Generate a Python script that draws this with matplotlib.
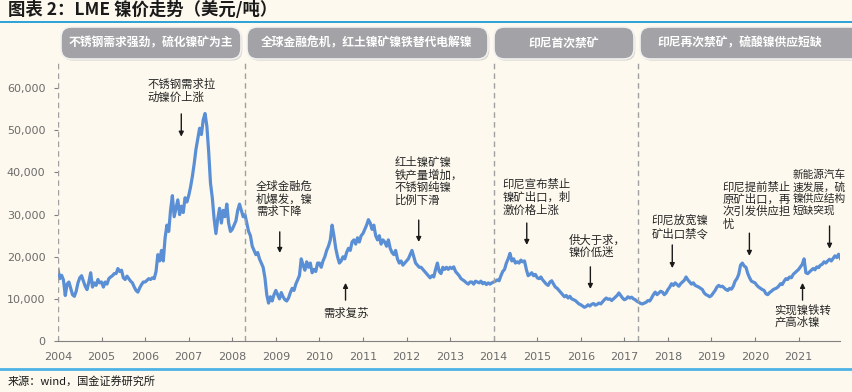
import numpy as np
import matplotlib.pyplot as plt
from matplotlib.patches import FancyBboxPatch
from matplotlib.lines import Line2D
from matplotlib.ticker import FuncFormatter

plt.rcParams['font.family'] = ['Noto Sans CJK SC', 'DejaVu Sans']

# LME nickel price, USD/t, thousands, 24 readings per year (half-monthly)
p2004 = [17.0, 14.8, 15.6, 14.5, 10.8, 13.5, 14.0, 12.5, 11.0, 10.6, 11.8, 13.8,
         15.0, 15.5, 14.2, 13.0, 12.2, 14.0, 16.2, 12.8, 13.8, 13.2, 14.6, 13.8]
p2005 = [14.0, 12.8, 14.0, 13.5, 14.8, 15.2, 15.5, 16.0, 16.0, 17.2, 16.5, 16.8,
         15.0, 14.6, 15.4, 14.8, 14.2, 13.8, 12.8, 12.0, 11.6, 12.6, 13.4, 14.0]
p2006 = [14.0, 14.4, 14.8, 14.6, 15.0, 14.8, 16.5, 20.5, 19.0, 21.5, 19.0, 24.5,
         27.5, 26.0, 31.0, 34.5, 29.5, 31.5, 33.5, 30.0, 32.0, 30.5, 34.0, 33.0]
p2007 = [34.5, 36.5, 39.0, 42.0, 45.5, 48.0, 50.5, 49.0, 52.5, 54.0, 51.0, 45.0,
         37.5, 34.0, 29.0, 25.5, 29.0, 31.5, 28.0, 31.0, 29.5, 32.5, 28.0, 26.0]
p2008 = [26.5, 27.5, 28.5, 31.0, 32.5, 31.0, 29.5, 30.0, 28.0, 26.0, 25.0, 22.5,
         21.5, 20.5, 21.0, 19.5, 18.5, 17.5, 15.0, 11.0, 9.0, 10.5, 9.5, 11.0]
p2009 = [12.0, 11.0, 10.0, 11.5, 10.5, 9.8, 9.5, 10.2, 11.5, 12.5, 12.0, 13.5,
         14.5, 15.5, 19.5, 18.0, 16.8, 18.8, 17.5, 18.5, 16.2, 17.0, 16.5, 18.5]
p2010 = [18.5, 17.5, 19.0, 20.0, 21.5, 22.5, 24.0, 27.5, 25.0, 22.0, 20.0, 18.5,
         19.0, 20.0, 19.5, 21.0, 22.0, 21.5, 23.5, 24.0, 23.0, 24.5, 23.5, 25.0]
p2011 = [25.5, 26.5, 27.5, 28.8, 28.0, 26.5, 27.5, 25.0, 24.0, 25.0, 23.0, 24.0,
         23.5, 22.5, 24.0, 22.0, 21.0, 20.5, 21.5, 19.5, 18.5, 19.0, 18.0, 18.5]
p2012 = [19.0, 19.5, 20.5, 21.5, 20.0, 18.5, 18.0, 17.5, 17.5, 17.0, 16.5, 16.0,
         15.5, 15.0, 15.5, 15.2, 17.0, 18.5, 16.5, 16.0, 17.5, 17.0, 17.5, 17.0]
p2013 = [17.5, 17.2, 17.6, 16.5, 16.0, 15.5, 14.8, 14.5, 14.2, 13.8, 13.5, 14.0,
         14.0, 13.5, 14.2, 14.0, 13.8, 14.2, 13.6, 13.9, 13.4, 13.8, 13.5, 13.8]
p2014 = [14.0, 14.2, 14.5, 14.3, 15.5, 16.5, 17.0, 18.5, 19.5, 20.8, 19.0, 19.5,
         18.5, 18.8, 18.5, 19.2, 18.8, 19.0, 17.0, 15.5, 15.8, 16.2, 15.5, 15.8]
p2015 = [15.0, 14.8, 15.2, 14.5, 14.0, 13.5, 13.2, 14.0, 14.3, 13.5, 12.8, 12.5,
         12.0, 11.5, 11.0, 10.5, 10.8, 10.2, 10.6, 10.0, 9.8, 9.6, 9.2, 8.8]
p2016 = [8.6, 8.3, 8.0, 8.2, 8.6, 8.3, 8.7, 8.9, 8.5, 8.7, 9.0, 8.8,
         9.3, 9.8, 10.2, 9.9, 10.0, 9.6, 10.0, 10.4, 10.8, 11.4, 10.8, 10.2]
p2017 = [9.8, 10.0, 10.5, 10.2, 10.4, 10.0, 9.8, 9.4, 9.2, 8.9, 8.8, 9.0,
         9.2, 9.6, 9.5, 10.2, 11.0, 11.6, 11.0, 11.4, 11.8, 11.6, 11.0, 11.4]
p2018 = [12.2, 12.8, 13.6, 13.2, 13.8, 13.4, 13.0, 13.6, 14.0, 14.4, 15.2, 14.5,
         14.0, 13.5, 13.8, 13.2, 13.0, 12.8, 12.5, 12.2, 11.4, 11.0, 10.8, 10.5]
p2019 = [10.8, 11.4, 12.0, 12.8, 13.2, 12.9, 13.0, 12.6, 12.2, 12.0, 12.5, 12.3,
         13.0, 14.2, 14.8, 15.8, 18.0, 18.5, 17.8, 17.5, 16.0, 15.0, 14.2, 14.0]
p2020 = [13.8, 13.2, 12.8, 12.5, 12.2, 12.0, 11.2, 11.0, 11.5, 11.8, 12.2, 12.4,
         12.6, 13.0, 13.6, 13.4, 14.2, 14.8, 14.6, 15.2, 15.0, 15.8, 16.2, 16.6]
p2021 = [17.0, 17.6, 18.2, 19.5, 16.2, 16.0, 16.4, 16.8, 17.2, 16.9, 17.6, 17.4,
         18.0, 18.2, 18.8, 18.5, 19.0, 19.4, 19.0, 19.6, 20.2, 19.8, 20.6, 19.6]

yearly = [p2004, p2005, p2006, p2007, p2008, p2009, p2010, p2011, p2012,
          p2013, p2014, p2015, p2016, p2017, p2018, p2019, p2020, p2021]
start_year = 2004
dates = np.concatenate([start_year + i + np.arange(24) / 24 for i in range(len(yearly))])
prices = np.concatenate(yearly) * 1000

# phase separators and headers
phase_breaks = [2004.0, 2008.30, 2014.0, 2017.32]
phase_labels = ["不锈钢需求强劲，硫化镍矿为主", "全球金融危机，红土镍矿镍铁替代电解镍",
                "印尼首次禁矿", "印尼再次禁矿，硫酸镍供应短缺"]

# annotations: text, text anchor (year, price), arrow x, arrow tail, arrow head, font size
notes = [
    ("不锈钢需求拉\n动镍价上涨", 2006.06, 62200, 2006.83, 53900, 48500, 8.2),
    ("全球金融危\n机爆发，镍\n需求下降", 2008.54, 38000, 2009.09, 25900, 20900, 8.2),
    ("需求复苏", 2010.08, 8000, 2010.60, 9700, 13800, 8.2),
    ("红土镍矿镍\n铁产量增加，\n不锈钢纯镍\n比例下滑", 2011.73, 43700, 2012.28, 28700, 23500, 8.2),
    ("印尼宣布禁止\n镍矿出口，刺\n激价格上涨", 2014.21, 38500, 2014.76, 28000, 22800, 8.2),
    ("供大于求，\n镍价低迷", 2015.72, 25400, 2016.22, 17600, 12350, 8.2),
    ("印尼放宽镍\n矿出口禁令", 2017.62, 29700, 2018.10, 22800, 17300, 8.2),
    ("印尼提前禁止\n原矿出口，再\n次引发供应担\n忧", 2019.25, 38000, 2019.87, 25600, 20200, 8.2),
    ("新能源汽车\n速发展，硫\n镍供应结构\n短缺突现", 2020.86, 40600, 2021.71, 27300, 21900, 7.7),
    ("实现镍铁转\n产高冰镍", 2020.44, 8800, 2021.09, 9700, 13800, 8.2),
]

W, H = 852, 392
bg = '#fdf9ee'
fig = plt.figure(figsize=(W / 100, H / 100), dpi=100, facecolor=bg)

def fx(x):
    return x / W

def fy(y):
    return 1 - y / H

ax = fig.add_axes([fx(58), fy(341), fx(840) - fx(58), fy(60) - fy(341)])
ax.set_facecolor(bg)
ax.plot(dates, prices, color='#5a8fd6', lw=2.3, solid_joinstyle='round')

ax.set_xlim(2004, 2021.95)
ax.set_ylim(0, 66700)
ax.set_xticks(range(2004, 2022))
ax.set_yticks(range(0, 60001, 10000))
ax.yaxis.set_major_formatter(FuncFormatter(lambda v, p: f"{int(v):,}"))
tick_font = ['Liberation Sans Narrow', 'DejaVu Sans']
for lab in ax.get_xticklabels() + ax.get_yticklabels():
    lab.set_family(tick_font)
    lab.set_fontsize(8)
    lab.set_color('#6b6b6b')
ax.tick_params(axis='x', direction='in', length=3, color='#808080', pad=8)
ax.tick_params(axis='y', direction='out', length=3, color='#808080', pad=6)
for s in ['top', 'right', 'left']:
    ax.spines[s].set_visible(False)
ax.spines['bottom'].set_color('#808080')

for xb in phase_breaks:
    ax.axvline(xb, color='#a0a0a0', lw=1, ls=(0, (4, 3)))

for text, tx, ty, axx, ay0, ay1, fs in notes:
    ax.text(tx, ty, text, ha='left', va='top', fontsize=fs, color='#262626',
            linespacing=1.15, clip_on=False)
    ax.annotate('', xy=(axx, ay1), xytext=(axx, ay0),
                arrowprops=dict(arrowstyle='-|>', color='#1a1a1a', lw=1, mutation_scale=7,
                                shrinkA=0, shrinkB=0))

# header boxes (pixel spans)
box_spans = [(61, 241), (247, 488), (494, 634), (640, 862)]
label_centers = [151, 367, 564, 740]
for (x0, x1), cx, lab in zip(box_spans, label_centers, phase_labels):
    shadow = FancyBboxPatch((fx(x0) + 0.0015, fy(59) - 0.004), fx(x1) - fx(x0), fy(27) - fy(59),
                            boxstyle="round,pad=0,rounding_size=0.012", transform=fig.transFigure,
                            facecolor='#d6d3cc', edgecolor='none', mutation_aspect=W / H)
    fig.patches.append(shadow)
    box = FancyBboxPatch((fx(x0), fy(59)), fx(x1) - fx(x0), fy(27) - fy(59),
                         boxstyle="round,pad=0,rounding_size=0.012", transform=fig.transFigure,
                         facecolor='#a3a3a7', edgecolor='#f2f2f2', lw=1.2, mutation_aspect=W / H)
    fig.patches.append(box)
    fig.text(fx(cx), fy(43), lab, ha='center', va='center', color='white',
             fontsize=8.5, fontweight='bold')

# title, rules and source
fig.text(fx(8), fy(10), "图表 2：LME 镍价走势（美元/吨）", ha='left', va='center',
         fontsize=12.5, fontweight='bold', color='#1a1a1a')
fig.lines.append(Line2D([0, 1], [fy(22), fy(22)], transform=fig.transFigure,
                        color='#1a9ad6', lw=1.3))
fig.lines.append(Line2D([0, 1], [fy(369), fy(369)], transform=fig.transFigure,
                        color='#4db3e6', lw=2))
fig.text(fx(8), fy(381), "来源：wind，国金证券研究所", ha='left', va='center',
         fontsize=8, color='#1a1a1a')

fig.savefig('out.png', dpi=100, facecolor=bg)
